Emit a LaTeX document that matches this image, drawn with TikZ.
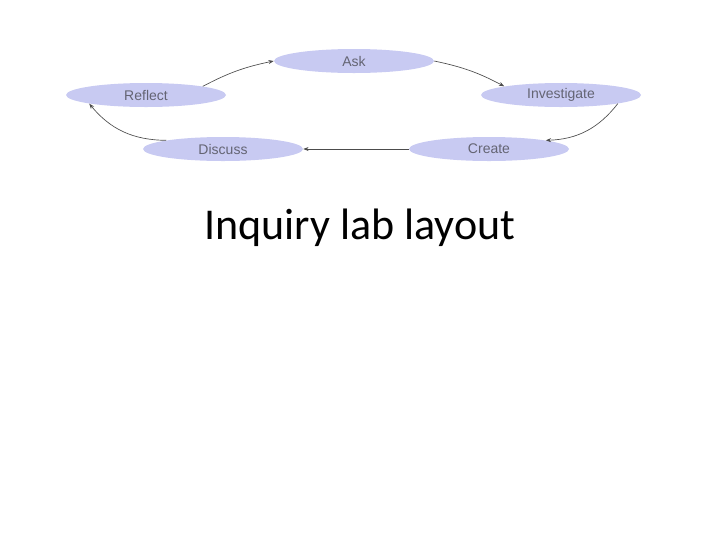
\documentclass[tikz,border=0pt]{standalone}
\usepackage{fontspec}
\setmainfont{Carlito}
\newfontfamily\lab{Liberation Sans}
\usetikzlibrary{shapes.geometric,arrows.meta}
\definecolor{ell}{RGB}{200,202,242}
\definecolor{txt}{RGB}{100,100,115}
\begin{document}
\begin{tikzpicture}[x=0.75pt,y=-0.75pt,
  stage/.style={ellipse,fill=ell,minimum width=120pt,minimum height=18pt,inner sep=0pt,font=\lab\fontsize{10.5}{11}\selectfont,text=txt},
  conn/.style={-{Stealth[length=4pt,width=3pt]},draw=black!70,line width=0.5pt}]
\useasboundingbox (0,0) rectangle (720,540);
\node[stage] (ask) at (354,61) {Ask};
\node[stage] (inv) at (561,95) {Investigate};
\node[stage] (cre) at (489,149) {Create};
\node[stage] (dis) at (223,149) {Discuss};
\node[stage] (ref) at (146,95) {Reflect};
\draw[conn] (ask.east) to[bend left=8] (inv.north west);
\draw[conn] (inv.south east) to[bend left=25] (cre.north east);
\draw[conn] (cre.west) -- (dis.east);
\draw[conn] (dis.north west) to[bend left=25] (ref.south west);
\draw[conn] (ref.north east) to[bend left=8] (ask.west);
\node[font=\fontsize{33}{36}\selectfont] (title) at (360,228) {Inquiry lab layout};
\end{tikzpicture}
\end{document}
